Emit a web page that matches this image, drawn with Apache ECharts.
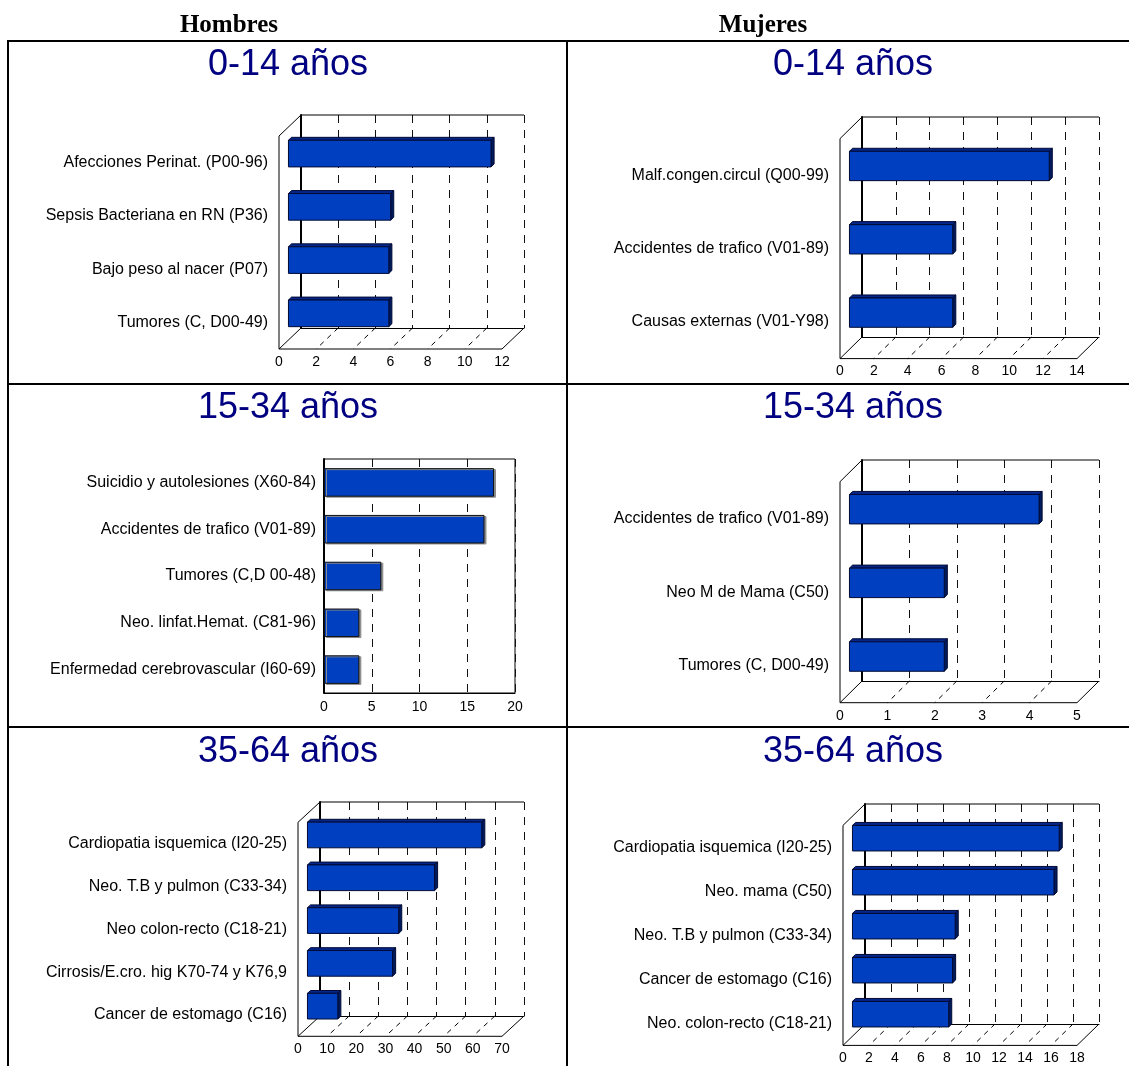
<!DOCTYPE html>
<html>
<head>
<meta charset="utf-8">
<script src="https://cdn.jsdelivr.net/npm/echarts@6/dist/echarts.min.js"></script>
<style>
  html, body { margin: 0; padding: 0; background: #fff; }
  #chart { width: 1129px; height: 1066px; }
</style>
</head>
<body>
<div id="chart"></div>
<script>
// Principales causas de mortalidad por grupo de edad y sexo

// Hombres 0-14 años
const catsH014 = ['Afecciones Perinat. (P00-96)', 'Sepsis Bacteriana en RN (P36)', 'Bajo peso al nacer (P07)', 'Tumores (C, D00-49)'];
const valsH014 = [10.9, 5.5, 5.4, 5.4];
const maxH014 = 12, stepH014 = 2;

// Mujeres 0-14 años
const catsM014 = ['Malf.congen.circul (Q00-99)', 'Accidentes de trafico (V01-89)', 'Causas externas (V01-Y98)'];
const valsM014 = [11.8, 6.1, 6.1];
const maxM014 = 14, stepM014 = 2;

// Hombres 15-34 años
const catsH1534 = ['Suicidio y autolesiones (X60-84)', 'Accidentes de trafico (V01-89)', 'Tumores (C,D 00-48)', 'Neo. linfat.Hemat. (C81-96)', 'Enfermedad cerebrovascular (I60-69)'];
const valsH1534 = [17.8, 16.8, 6.0, 3.7, 3.7];
const maxH1534 = 20, stepH1534 = 5;

// Mujeres 15-34 años
const catsM1534 = ['Accidentes de trafico (V01-89)', 'Neo M de Mama (C50)', 'Tumores (C, D00-49)'];
const valsM1534 = [4.0, 2.0, 2.0];
const maxM1534 = 5, stepM1534 = 1;

// Hombres 35-64 años
const catsH3564 = ['Cardiopatia isquemica (I20-25)', 'Neo. T.B y pulmon (C33-34)', 'Neo colon-recto (C18-21)', 'Cirrosis/E.cro. hig K70-74 y K76,9', 'Cancer de estomago (C16)'];
const valsH3564 = [59.8, 43.6, 31.3, 29.2, 10.4];
const maxH3564 = 70, stepH3564 = 10;

// Mujeres 35-64 años
const catsM3564 = ['Cardiopatia isquemica (I20-25)', 'Neo. mama (C50)', 'Neo. T.B y pulmon (C33-34)', 'Cancer de estomago (C16)', 'Neo. colon-recto (C18-21)'];
const valsM3564 = [15.9, 15.5, 7.9, 7.7, 7.4];
const maxM3564 = 18, stepM3564 = 2;

const columnHeaders = ['Hombres', 'Mujeres'];
const rowTitles = ['0-14 años', '15-34 años', '35-64 años'];

// ---- styling ----
const SANS = "'Liberation Sans', Arial, sans-serif";
const SERIF = "'Liberation Serif', 'Times New Roman', serif";
const FRONT = '#0040C0', TOP = '#06268A', SIDE = '#001A5E', EDGE = '#000A33';
const CAT_FONT = 16, TICK_FONT = 14;

// back-wall placement of each 3D panel; (dx, dy) is the depth offset to the front plane
const panels = [
  { cats: catsH014, vals: valsH014, max: maxH014, step: stepH014, left: 301, top: 115, width: 223, height: 213, dx: -22, dy: 21, barRatio: 0.5 },
  { cats: catsM014, vals: valsM014, max: maxM014, step: stepM014, left: 862, top: 117, width: 237, height: 220, dx: -22, dy: 21.6, barRatio: 0.4 },
  { cats: catsM1534, vals: valsM1534, max: maxM1534, step: stepM1534, left: 862, top: 460, width: 237, height: 221, dx: -22, dy: 21.7, barRatio: 0.4 },
  { cats: catsH3564, vals: valsH3564, max: maxH3564, step: stepH3564, left: 320, top: 802, width: 204, height: 214, dx: -22, dy: 20.3, barRatio: 0.6 },
  { cats: catsM3564, vals: valsM3564, max: maxM3564, step: stepM3564, left: 865, top: 804, width: 234, height: 220, dx: -22, dy: 21.4, barRatio: 0.58 }
];
// flat panel (Hombres 15-34)
const flat = { cats: catsH1534, vals: valsH1534, max: maxH1534, step: stepH1534, left: 324, top: 459, width: 191, height: 234 };

const grid = [], xAxis = [], yAxis = [], series = [];

function addGrid(g) { grid.push(g); return grid.length - 1; }

function barRender(p) {
  return function (params, api) {
    const v = api.value(0), c = api.value(1);
    const a = api.coord([0, c]), b = api.coord([v, c]);
    const band = api.size([0, 1])[1];
    const h = band * p.barRatio;
    const f = 0.57, k = 0.43;
    const fx = p.dx * f, fy = p.dy * f;
    const ox = p.dx * (k - f), oy = p.dy * (k - f);
    const x0 = a[0] + fx, x1 = b[0] + fx, y0 = a[1] - h / 2 + fy, y1 = a[1] + h / 2 + fy;
    return {
      type: 'group',
      children: [
        { type: 'polygon', shape: { points: [[x0, y0], [x1, y0], [x1 + ox, y0 + oy], [x0 + ox, y0 + oy]] }, style: { fill: TOP, stroke: EDGE, lineWidth: 1 } },
        { type: 'polygon', shape: { points: [[x1, y0], [x1 + ox, y0 + oy], [x1 + ox, y1 + oy], [x1, y1]] }, style: { fill: SIDE, stroke: EDGE, lineWidth: 1 } },
        { type: 'rect', shape: { x: x0, y: y0, width: x1 - x0, height: y1 - y0 }, style: { fill: FRONT, stroke: EDGE, lineWidth: 1 } }
      ]
    };
  };
}

function frameRender(p) {
  return function (params, api) {
    const cs = params.coordSys;
    const t = api.value(0);
    const x = api.coord([t, 0])[0];
    const yb = cs.y + cs.height;
    const isEdge = (t === 0 || t === p.max);
    const children = [{
      type: 'line',
      shape: { x1: x, y1: yb, x2: x + p.dx, y2: yb + p.dy },
      style: { stroke: '#000', lineWidth: 1, lineDash: isEdge ? null : [5, 5] }
    }];
    if (params.dataIndex === 0) {
      const L = cs.x, R = cs.x + cs.width, T = cs.y;
      const solid = { stroke: '#000', lineWidth: 1 };
      children.push(
        { type: 'line', shape: { x1: L + p.dx, y1: yb + p.dy, x2: R + p.dx, y2: yb + p.dy }, style: solid },
        { type: 'line', shape: { x1: L + p.dx, y1: T + p.dy, x2: L + p.dx, y2: yb + p.dy }, style: solid },
        { type: 'line', shape: { x1: L, y1: T, x2: L + p.dx, y2: T + p.dy }, style: solid },
        { type: 'line', shape: { x1: L, y1: T, x2: R, y2: T }, style: solid }
      );
    }
    return { type: 'group', children: children };
  };
}

panels.forEach(function (p) {
  // back wall
  const gb = addGrid({ left: p.left, top: p.top, width: p.width, height: p.height, containLabel: false });
  xAxis.push({
    type: 'value', gridIndex: gb, min: 0, max: p.max, interval: p.step,
    axisLabel: { show: false }, axisTick: { show: false },
    axisLine: { show: true, lineStyle: { color: '#000', width: 1 } },
    splitLine: { show: true, lineStyle: { color: '#111', width: 1, type: [8, 7] } }
  });
  yAxis.push({
    type: 'category', gridIndex: gb, data: p.cats, inverse: true,
    axisLabel: { show: false }, axisTick: { show: false },
    axisLine: { show: true, lineStyle: { color: '#000', width: 2 } },
    splitLine: { show: false }
  });
  const axb = xAxis.length - 1;

  // front plane (carries the tick and category labels)
  const gf = addGrid({ left: p.left + p.dx, top: p.top + p.dy, width: p.width, height: p.height, containLabel: false });
  xAxis.push({
    type: 'value', gridIndex: gf, min: 0, max: p.max, interval: p.step,
    axisLabel: { show: true, margin: 6, fontSize: TICK_FONT, fontFamily: SANS, color: '#000' },
    axisTick: { show: false }, axisLine: { show: false }, splitLine: { show: false }
  });
  yAxis.push({
    type: 'category', gridIndex: gf, data: p.cats, inverse: true,
    axisLabel: { show: true, margin: 11, fontSize: CAT_FONT, fontFamily: SANS, color: '#000' },
    axisTick: { show: false }, axisLine: { show: false }, splitLine: { show: false }
  });

  const ticks = [];
  for (let t = 0; t <= p.max + 1e-9; t += p.step) ticks.push([t, 0]);
  series.push({
    type: 'custom', xAxisIndex: axb, yAxisIndex: axb, data: ticks, z: 1, silent: true,
    renderItem: frameRender(p)
  });
  series.push({
    type: 'custom', xAxisIndex: axb, yAxisIndex: axb, z: 3, silent: true,
    data: p.vals.map(function (v, i) { return [v, i]; }),
    renderItem: barRender(p)
  });
});

// flat 2D panel
(function () {
  const g = addGrid({ left: flat.left, top: flat.top, width: flat.width, height: flat.height, containLabel: false, show: true, borderColor: '#000', borderWidth: 1, backgroundColor: 'transparent' });
  xAxis.push({
    type: 'value', gridIndex: g, min: 0, max: flat.max, interval: flat.step,
    axisLabel: { show: true, margin: 7, fontSize: TICK_FONT, fontFamily: SANS, color: '#000' },
    axisTick: { show: false },
    axisLine: { show: true, lineStyle: { color: '#000', width: 1 } },
    splitLine: { show: true, lineStyle: { color: '#111', width: 1, type: [8, 7] } }
  });
  yAxis.push({
    type: 'category', gridIndex: g, data: flat.cats, inverse: true,
    axisLabel: { show: true, margin: 8, fontSize: CAT_FONT, fontFamily: SANS, color: '#000' },
    axisTick: { show: false },
    axisLine: { show: true, lineStyle: { color: '#000', width: 2 } }
  });
  const ax = xAxis.length - 1;
  series.push({
    type: 'bar', xAxisIndex: ax, yAxisIndex: ax, data: flat.vals, barWidth: '61%', silent: true, z: 3,
    itemStyle: { color: FRONT, borderColor: '#111', borderWidth: 1, shadowColor: '#8a8a8a', shadowOffsetX: 2, shadowOffsetY: 1, shadowBlur: 0 }
  });
})();

// table frame, column headers and panel titles
const graphic = [];
const lineStyle = { stroke: '#000', lineWidth: 2 };
[[7, 41, 1129, 41], [7, 384, 1129, 384], [7, 727, 1129, 727], [8, 40, 8, 1066], [567, 40, 567, 1066]].forEach(function (l) {
  graphic.push({ type: 'line', shape: { x1: l[0], y1: l[1], x2: l[2], y2: l[3] }, style: lineStyle, z: 10 });
});
const colCenters = [229, 763];
columnHeaders.forEach(function (t, i) {
  graphic.push({ type: 'text', x: colCenters[i], y: 26, style: { text: t, fill: '#000', font: 'bold 25px ' + SERIF, align: 'center', verticalAlign: 'middle' } });
});
const titleCenters = [288, 853];
const titleRows = [65, 408, 752];
rowTitles.forEach(function (t, r) {
  titleCenters.forEach(function (cx) {
    graphic.push({ type: 'text', x: cx, y: titleRows[r], style: { text: t, fill: '#000080', font: '36px ' + SANS, align: 'center', verticalAlign: 'middle' } });
  });
});

const chart = echarts.init(document.getElementById('chart'), null, { renderer: 'canvas' });
chart.setOption({
  animation: false,
  backgroundColor: '#fff',
  grid: grid,
  xAxis: xAxis,
  yAxis: yAxis,
  series: series,
  graphic: graphic
});
</script>
</body>
</html>
